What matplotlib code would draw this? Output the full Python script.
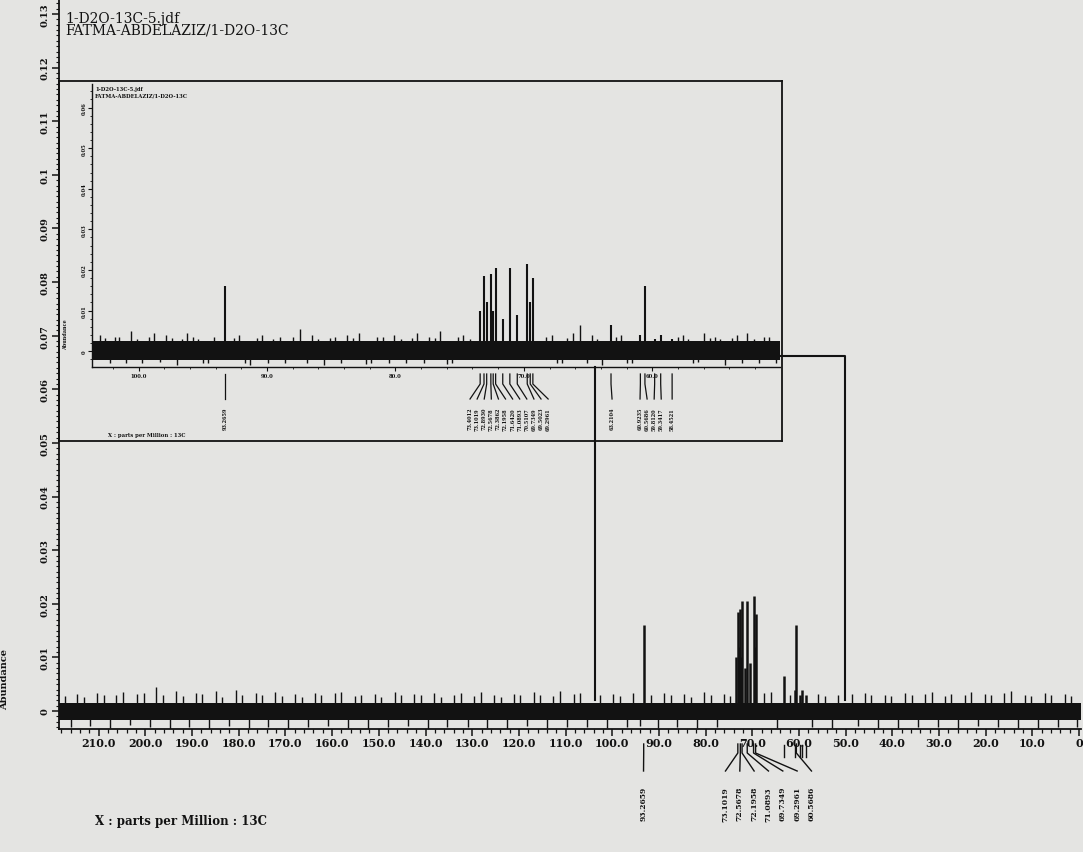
import numpy as np
import matplotlib.pyplot as plt
from matplotlib import transforms
from matplotlib.ticker import MultipleLocator, FuncFormatter

# peaks of the 13C spectrum (ppm, abundance)
peak_ppm = [93.2659, 73.4012, 73.1019, 72.8930, 72.5678, 72.3862, 72.1958, 71.6420,
            71.0893, 70.5107, 69.7349, 69.5023, 69.2961, 63.2104, 60.9235, 60.5686,
            59.8120, 59.3417, 58.4521]
peak_height = [0.0160, 0.0100, 0.0185, 0.0120, 0.0190, 0.0100, 0.0205, 0.0080,
               0.0205, 0.0090, 0.0215, 0.0120, 0.0180, 0.0065, 0.0040, 0.0160,
               0.0030, 0.0040, 0.0030]
main_labels = [93.2659, 73.1019, 72.5678, 72.1958, 71.0893, 69.7349, 69.2961, 60.5686]
main_marks = [63.2104, 60.9235, 59.8120, 59.3417, 58.4521]

# baseline noise: band and the spikes that stick out of it
noise_band = (-0.0017, 0.0015)
spike_ppm = [217.2, 216.0, 214.6, 213.1, 211.8, 210.3, 208.9, 207.5, 206.2, 204.7, 203.3,
             201.9, 200.4, 199.0, 197.7, 196.2, 194.8, 193.4, 191.9, 190.6, 189.1, 187.8,
             186.3, 184.9, 183.6, 182.1, 180.6, 179.3, 177.9, 176.4, 175.0, 173.7, 172.2,
             170.8, 169.4, 168.0, 166.5, 165.1, 163.7, 162.3, 160.9, 159.4, 158.0, 156.6,
             155.2, 153.8, 152.3, 150.9, 149.5, 148.1, 146.6, 145.2, 143.8, 142.4, 141.0,
             139.5, 138.1, 136.7, 135.3, 133.9, 132.4, 131.0, 129.6, 128.2, 126.8, 125.3,
             123.9, 122.5, 121.1, 119.7, 118.2, 116.8, 115.4, 114.0, 112.6, 111.1, 109.7,
             108.3, 106.9, 105.5, 102.6, 101.2, 99.8, 98.4, 96.9, 95.5, 94.1, 91.8, 90.3,
             88.9, 87.5, 86.1, 84.6, 83.2, 81.8, 80.4, 78.9, 77.5, 76.1, 74.7, 67.5, 66.1,
             64.7, 62.0, 57.3, 55.9, 54.4, 53.0, 51.6, 48.7, 47.3, 45.9, 44.5, 43.0, 41.6,
             40.2, 38.8, 37.3, 35.9, 34.5, 33.1, 31.6, 30.2, 28.8, 27.4, 25.9, 24.5, 23.1,
             21.7, 20.2, 18.8, 17.4, 16.0, 14.5, 13.1, 11.7, 10.3, 8.8, 7.4, 6.0, 4.6, 3.1,
             1.7, 0.4]
spike_height = [0.0028, -0.0030, 0.0032, 0.0026, -0.0028, 0.0034, 0.0030, -0.0032, 0.0029,
                0.0036, -0.0027, 0.0031, 0.0033, -0.0030, 0.0045, 0.0030, -0.0033, 0.0037,
                0.0028, -0.0029, 0.0034, 0.0031, -0.0035, 0.0038, 0.0027, -0.0028, 0.0040,
                0.0029, -0.0031, 0.0033, 0.0030, -0.0029, 0.0035, 0.0028, -0.0033, 0.0031,
                0.0027, -0.0030, 0.0034, 0.0029, -0.0028, 0.0033, 0.0036, -0.0031, 0.0028,
                0.0030, -0.0034, 0.0032, 0.0027, -0.0029, 0.0035, 0.0030, -0.0028, 0.0031,
                0.0029, -0.0033, 0.0033, 0.0027, -0.0030, 0.0030, 0.0034, -0.0029, 0.0028,
                0.0036, -0.0031, 0.0030, 0.0027, -0.0033, 0.0032, 0.0029, -0.0028, 0.0036,
                0.0030, -0.0031, 0.0028, 0.0038, -0.0030, 0.0031, 0.0034, -0.0029, 0.0030,
                -0.0032, 0.0031, 0.0028, -0.0030, 0.0033, -0.0028, 0.0030, -0.0031, 0.0033,
                0.0029, -0.0030, 0.0031, 0.0027, -0.0032, 0.0035, 0.0029, -0.0030, 0.0032,
                0.0028, 0.0033, 0.0036, -0.0031, 0.0030, -0.0029, 0.0032, 0.0028, -0.0031,
                0.0030, 0.0031, -0.0028, 0.0033, 0.0029, -0.0032, 0.0030, 0.0028, -0.0031,
                0.0034, 0.0029, -0.0030, 0.0031, 0.0035, -0.0029, 0.0028, 0.0032, -0.0033,
                0.0030, 0.0036, -0.0028, 0.0031, 0.0029, -0.0030, 0.0034, 0.0038, -0.0031,
                0.0030, 0.0028, -0.0032, 0.0033, 0.0029, -0.0030, 0.0032, 0.0028, -0.0030]

# expanded region shown in the inset
inset_range = (103.63, 50.05)
inset_band = (-0.0022, 0.0024)
inset_spike_ppm = [103.0, 102.6, 102.2, 101.8, 101.5, 101.0, 100.6, 100.1, 99.7, 99.2, 98.8,
                   98.3, 97.9, 97.4, 97.0, 96.6, 96.2, 95.8, 95.4, 95.0, 94.6, 94.1, 92.6,
                   92.2, 91.7, 91.3, 90.8, 90.4, 89.9, 89.5, 89.0, 88.6, 88.0, 87.4, 86.9,
                   86.5, 86.0, 85.6, 85.1, 84.7, 84.2, 83.8, 83.3, 82.8, 82.3, 81.9, 81.4,
                   81.0, 80.5, 80.1, 79.6, 79.2, 78.7, 78.3, 77.8, 77.4, 76.9, 76.5, 76.0,
                   75.6, 75.1, 74.7, 74.2, 68.3, 67.8, 67.4, 67.0, 66.6, 66.2, 65.6, 65.1,
                   64.7, 64.3, 63.9, 62.8, 62.4, 62.0, 61.6, 58.0, 57.6, 57.2, 56.8, 56.4,
                   56.0, 55.5, 55.1, 54.7, 54.3, 53.8, 53.4, 53.0, 52.6, 52.1, 51.7, 51.3,
                   50.9, 50.4]
inset_spike_height = [0.0040, 0.0032, -0.0030, 0.0036, 0.0035, -0.0028, 0.0050, 0.0031,
                      -0.0030, 0.0034, 0.0045, -0.0027, 0.0040, 0.0033, -0.0035, 0.0029,
                      0.0045, 0.0036, 0.0030, -0.0029, -0.0030, 0.0034, 0.0033, 0.0040,
                      -0.0028, -0.0035, 0.0032, 0.0040, -0.0030, 0.0030, 0.0036, -0.0030,
                      0.0034, 0.0055, -0.0029, 0.0040, 0.0031, -0.0035, 0.0033, 0.0035,
                      -0.0028, 0.0040, 0.0032, 0.0045, -0.0031, -0.0030, 0.0034, 0.0035,
                      -0.0029, 0.0040, 0.0031, -0.0030, 0.0033, 0.0045, -0.0028, 0.0035,
                      0.0032, 0.0050, -0.0031, -0.0030, 0.0034, 0.0040, 0.0031, 0.0036,
                      0.0040, -0.0028, -0.0030, 0.0033, 0.0045, 0.0065, -0.0029, 0.0040,
                      0.0031, -0.0035, 0.0034, 0.0040, -0.0028, -0.0030, 0.0035, 0.0040,
                      0.0031, -0.0030, -0.0027, 0.0045, 0.0032, 0.0035, 0.0030, -0.0035,
                      0.0033, 0.0040, -0.0029, 0.0045, 0.0031, -0.0030, 0.0034, 0.0035,
                      -0.0028]

title_lines = ["1-D2O-13C-5.jdf", "FATMA-ABDELAZIZ/1-D2O-13C"]
xlabel = "X : parts per Million : 13C"
ylabel = "Abundance"

W, H = 1083, 853
INK = "#121212"
BG = "#e4e4e2"
plt.rcParams["font.family"] = "DejaVu Serif"


def fx(px):
    return px / W


def fy(py):
    return 1 - py / H


def xfmt(v, p):
    return "0" if abs(v) < 1e-9 else "%.1f" % v


def yfmt(v, p):
    return "0" if abs(v) < 1e-9 else "%g" % round(v, 2)


fig = plt.figure(figsize=(W / 100, H / 100), dpi=100, facecolor=BG)

# ---------------- main spectrum ----------------
ax = fig.add_axes([fx(59), fy(730), fx(1081) - fx(59), fy(0) - fy(730)])
ax.set_facecolor("none")
ax.set_xlim(218.5, -0.4)
ax.set_ylim(-0.00336, 0.1328)
for s in ["top", "right"]:
    ax.spines[s].set_visible(False)
for s in ["left", "bottom"]:
    ax.spines[s].set_linewidth(1.3)
    ax.spines[s].set_color(INK)

ax.fill_between([218.5, -0.4], noise_band[0], noise_band[1], color=INK, lw=0)
ax.vlines(spike_ppm, 0, spike_height, color=INK, lw=1.0)
ax.vlines(peak_ppm, 0, peak_height, color=INK, lw=1.8)

ax.xaxis.set_minor_locator(MultipleLocator(2))
ax.yaxis.set_major_locator(MultipleLocator(0.01))
ax.yaxis.set_minor_locator(MultipleLocator(0.001))
ax.set_xticks(np.arange(0, 211, 10))
ax.xaxis.set_major_formatter(FuncFormatter(xfmt))
ax.yaxis.set_major_formatter(FuncFormatter(yfmt))
ax.tick_params(axis="x", which="major", length=5, width=1.1, pad=1, labelsize=8, colors=INK)
ax.tick_params(axis="x", which="minor", length=3, width=0.9, colors=INK)
ax.tick_params(axis="y", which="major", length=5, width=1.1, pad=2, labelsize=7, colors=INK)
ax.tick_params(axis="y", which="minor", length=2.5, width=0.8, colors=INK)
for t in ax.get_xticklabels():
    t.set_fontweight("bold")
for t in ax.get_yticklabels():
    t.set_fontweight("bold")
    t.set_rotation(90)
    t.set_va("center")

# lines tying the inset to its region
ax.plot([inset_range[0], inset_range[0]], [0.0642, 0.002], color=INK, lw=1.5)
ax.plot([92.3, inset_range[1], inset_range[1]], [0.0662, 0.0662, 0.002], color=INK, lw=1.5)

# peak labels under the main axis
bt = transforms.blended_transform_factory(ax.transData, fig.transFigure)
lab_x = [93.3] + [75.75 - 3.07 * i for i in range(7)]
for p, lx in zip(main_labels, lab_x):
    ax.plot([p, p, lx], [fy(745), fy(754), fy(772)], color=INK, lw=1.0,
            transform=bt, clip_on=False)
    ax.text(lx, fy(787), "%.4f" % p, rotation=90, ha="center", va="top",
            fontsize=5.5, fontweight="bold", color=INK, transform=bt)
for p in main_marks:
    ax.plot([p, p], [fy(746), fy(758)], color=INK, lw=1.0, transform=bt, clip_on=False)

fig.text(fx(65), fy(23), title_lines[0], fontsize=10, color=INK)
fig.text(fx(65), fy(35), title_lines[1], fontsize=10, color=INK)
fig.text(fx(95), fy(822), xlabel, fontsize=8.5, fontweight="bold", color=INK, va="center")
fig.text(fx(5), fy(680), ylabel, fontsize=7, fontweight="bold", color=INK,
         rotation=90, ha="center", va="center")

# ---------------- inset ----------------
frame = fig.add_axes([fx(59), fy(442), fx(782) - fx(59), fy(82) - fy(442)])
frame.set_facecolor("none")
frame.set_xticks([])
frame.set_yticks([])
for s in frame.spines.values():
    s.set_linewidth(1.3)
    s.set_color(INK)

ins = fig.add_axes([fx(92), fy(368), fx(780) - fx(92), fy(85) - fy(368)])
ins.set_facecolor("none")
ins.set_xlim(*inset_range)
ins.set_ylim(-0.0039, 0.0658)
for s in ["top", "right"]:
    ins.spines[s].set_visible(False)
for s in ["left", "bottom"]:
    ins.spines[s].set_linewidth(1.0)
    ins.spines[s].set_color(INK)
ins.fill_between(inset_range, inset_band[0], inset_band[1], color=INK, lw=0)
ins.vlines(inset_spike_ppm, 0, inset_spike_height, color=INK, lw=1.0)
ins.vlines(peak_ppm, 0, peak_height, color=INK, lw=1.5)
ins.xaxis.set_major_locator(MultipleLocator(10))
ins.xaxis.set_minor_locator(MultipleLocator(2))
ins.yaxis.set_major_locator(MultipleLocator(0.01))
ins.yaxis.set_minor_locator(MultipleLocator(0.002))
ins.xaxis.set_major_formatter(FuncFormatter(xfmt))
ins.yaxis.set_major_formatter(FuncFormatter(yfmt))
ins.tick_params(axis="both", which="major", length=3, width=0.8, pad=1, labelsize=3.8, colors=INK)
ins.tick_params(axis="both", which="minor", length=1.5, width=0.6, colors=INK)
for t in ins.get_xticklabels() + ins.get_yticklabels():
    t.set_fontweight("bold")
for t in ins.get_yticklabels():
    t.set_rotation(90)
    t.set_va("center")

bi = transforms.blended_transform_factory(ins.transData, fig.transFigure)
ppx = 12.84  # inset pixels per ppm
ins_lab_x = [93.2659] + [74.19 - 7.1 / ppx * i for i in range(12)] + \
            [63.13, 60.95, 60.40, 59.85, 59.30, 58.45]
for p, lx in zip(peak_ppm, ins_lab_x):
    ins.plot([p, p, lx], [fy(375), fy(385), fy(400)], color=INK, lw=0.9,
             transform=bi, clip_on=False)
    ins.text(lx, fy(408), "%.4f" % p, rotation=90, ha="center", va="top",
             fontsize=3.6, fontweight="bold", color=INK, transform=bi)

fig.text(fx(95), fy(91), title_lines[0], fontsize=3.8, fontweight="bold", color=INK)
fig.text(fx(95), fy(97), title_lines[1], fontsize=3.8, fontweight="bold", color=INK)
fig.text(fx(108), fy(437), xlabel, fontsize=3.8, fontweight="bold", color=INK)
fig.text(fx(66), fy(335), ylabel, fontsize=3.5, fontweight="bold", color=INK,
         rotation=90, ha="center", va="center")

fig.savefig("out.png", dpi=100, facecolor=BG)
